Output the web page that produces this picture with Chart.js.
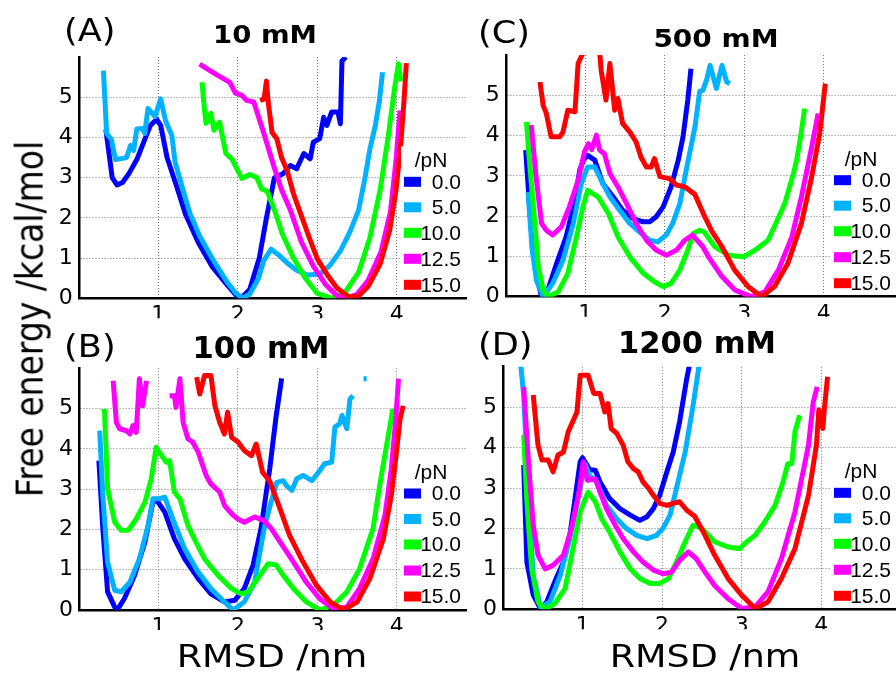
<!DOCTYPE html>
<html>
<head>
<meta charset="utf-8">
<script src="https://cdn.jsdelivr.net/npm/chart.js@4.4.0/dist/chart.umd.min.js"></script>
<style>
body { margin: 0; background: #fff; width: 896px; height: 675px; overflow: hidden; position: relative; font-family: "DejaVu Sans"; }
canvas { position: absolute; }
.t { position: absolute; white-space: nowrap; line-height: 1; color: #000; }
</style>
</head>
<body>
<canvas id="pA" width="468" height="330" style="left:0;top:0"></canvas>
<canvas id="pC" width="428" height="330" style="left:468px;top:0"></canvas>
<canvas id="pB" width="468" height="345" style="left:0;top:330px"></canvas>
<canvas id="pD" width="428" height="345" style="left:468px;top:330px"></canvas>

<div class="t" style="left:64px;top:14px;font-size:32px;transform:scaleX(1.1);transform-origin:left">(A)</div>
<div class="t" style="left:478px;top:16px;font-size:32px;transform:scaleX(1.1);transform-origin:left">(C)</div>
<div class="t" style="left:64px;top:329.5px;font-size:32px;transform:scaleX(1.1);transform-origin:left">(B)</div>
<div class="t" style="left:478px;top:328px;font-size:32px;transform:scaleX(1.1);transform-origin:left">(D)</div>

<div class="t" style="left:265px;top:21.8px;font-size:25px;font-weight:bold;transform:translateX(-50%) scaleX(1.1)">10 mM</div>
<div class="t" style="left:716px;top:25.5px;font-size:25px;font-weight:bold;transform:translateX(-50%) scaleX(1.12)">500 mM</div>
<div class="t" style="left:261px;top:333px;font-size:30px;font-weight:bold;transform:translateX(-50%) scaleX(1.02)">100 mM</div>
<div class="t" style="left:697px;top:328px;font-size:30px;font-weight:bold;transform:translateX(-50%) scaleX(1.02)">1200 mM</div>

<div class="t" style="left:272px;top:639.6px;font-size:32px;transform:translateX(-50%) scaleX(1.14)">RMSD /nm</div>
<div class="t" style="left:705px;top:639.6px;font-size:32px;transform:translateX(-50%) scaleX(1.14)">RMSD /nm</div>
<div class="t" style="left:28.5px;top:318.5px;font-size:33px;transform:translate(-50%,-50%) rotate(-90deg) scaleY(1.15)">Free energy /kcal/mol</div>

<script>
// pulling force of each curve, pN
const forces = ['0.0', '5.0', '10.0', '12.5', '15.0'];
const colors = ['#0000ff', '#00b2ff', '#00ff00', '#ff00ff', '#ff0000'];
const legendTitle = '/pN';
const xTicks = [1, 2, 3, 4];
const yTicks = [0, 1, 2, 3, 4, 5];

// (A) 10 mM  [RMSD nm, kcal/mol]
const a00 = [[0.34,4.2],[0.42,3.0],[0.48,2.82],[0.55,2.88],[0.63,3.1],[0.73,3.45],[0.84,4.0],[0.9,4.3],[0.98,4.45],[1.03,4.3],[1.11,3.5],[1.22,2.85],[1.34,2.1],[1.51,1.36],[1.68,0.78],[1.85,0.37],[1.99,0.05],[2.05,0.02],[2.15,0.22],[2.27,1.0],[2.36,2.0],[2.46,3.0],[2.57,3.1],[2.66,3.3],[2.74,3.22],[2.83,3.6],[2.91,3.47],[2.95,3.88],[3.03,3.97],[3.08,4.5],[3.12,4.3],[3.18,4.63],[3.26,4.63],[3.29,4.34],[3.31,5.9],[3.36,6.0]];
const a05 = [[0.31,5.66],[0.35,4.1],[0.41,3.95],[0.46,3.45],[0.55,3.48],[0.6,3.5],[0.65,3.8],[0.69,3.68],[0.73,4.21],[0.8,4.22],[0.83,4.1],[0.87,4.72],[0.96,4.52],[1.03,4.96],[1.09,4.42],[1.17,4.05],[1.21,3.4],[1.31,2.7],[1.4,2.1],[1.52,1.55],[1.69,0.95],[1.86,0.42],[1.97,0.14],[2.06,0.0],[2.15,0.1],[2.26,0.5],[2.33,0.95],[2.42,1.22],[2.53,1.05],[2.62,0.88],[2.74,0.7],[2.87,0.58],[3.03,0.6],[3.16,0.82],[3.29,1.18],[3.41,1.65],[3.52,2.2],[3.6,3.0],[3.66,3.7],[3.73,4.3],[3.78,4.9],[3.82,5.62]];
const a10 = [[1.55,5.37],[1.58,4.7],[1.6,4.35],[1.66,4.6],[1.7,4.18],[1.77,4.38],[1.85,3.6],[1.93,3.45],[2.05,2.98],[2.15,3.08],[2.24,3.0],[2.3,2.72],[2.37,2.66],[2.46,2.2],[2.56,1.6],[2.7,1.0],[2.85,0.5],[3.0,0.12],[3.18,0.0],[3.35,0.15],[3.52,0.65],[3.66,1.5],[3.79,2.69],[3.89,4.0],[3.97,5.2],[4.02,5.83],[4.05,5.4]];
const a12 = [[1.52,5.82],[1.7,5.6],[1.9,5.37],[1.97,5.1],[2.05,5.05],[2.11,4.92],[2.2,4.88],[2.32,4.15],[2.45,3.3],[2.55,2.7],[2.66,2.2],[2.8,1.4],[2.95,0.8],[3.1,0.35],[3.25,0.06],[3.36,0.0],[3.5,0.1],[3.64,0.45],[3.8,1.15],[3.92,2.15],[3.99,3.43],[4.04,4.67]];
const a15 = [[2.28,4.92],[2.33,4.95],[2.36,5.4],[2.38,4.92],[2.43,4.13],[2.49,3.97],[2.55,3.5],[2.62,3.18],[2.7,2.6],[2.8,2.05],[2.9,1.5],[3.0,0.98],[3.12,0.6],[3.25,0.25],[3.4,0.03],[3.52,0.06],[3.64,0.3],[3.79,0.85],[3.91,1.69],[3.99,2.69],[4.05,3.84],[4.09,4.9],[4.12,5.85]];

// (B) 100 mM
const b00 = [[0.25,3.71],[0.3,2.02],[0.36,0.45],[0.45,0.07],[0.49,0.03],[0.57,0.28],[0.7,0.86],[0.83,1.69],[0.93,2.68],[0.98,2.72],[1.08,2.43],[1.2,1.77],[1.33,1.27],[1.5,0.78],[1.66,0.4],[1.83,0.2],[1.96,0.24],[2.08,0.53],[2.19,1.11],[2.29,2.02],[2.4,3.5],[2.48,4.8],[2.55,5.75]];
const b05 = [[0.26,4.45],[0.3,2.84],[0.36,1.19],[0.45,0.49],[0.53,0.45],[0.64,0.69],[0.76,1.27],[0.87,2.1],[0.93,2.76],[1.0,2.76],[1.08,2.8],[1.18,2.26],[1.33,1.52],[1.5,0.94],[1.66,0.53],[1.83,0.2],[1.94,0.0],[2.08,0.2],[2.21,0.69],[2.33,2.02],[2.42,2.7],[2.49,3.17],[2.57,3.21],[2.61,3.09],[2.68,2.97],[2.74,3.26],[2.82,3.34],[2.93,3.21],[3.03,3.46],[3.09,3.63],[3.18,3.67],[3.22,4.54],[3.28,4.62],[3.31,4.83],[3.37,4.5],[3.41,5.24],[3.45,5.32],[3.5,null],[3.58,5.74],[3.62,5.74]];
const b10 = [[0.32,4.99],[0.36,3.0],[0.45,2.18],[0.53,1.98],[0.62,1.98],[0.72,2.26],[0.83,2.68],[0.91,3.26],[0.97,4.04],[1.04,3.83],[1.1,3.67],[1.14,3.71],[1.2,2.93],[1.27,2.76],[1.37,2.1],[1.45,1.77],[1.58,1.27],[1.75,0.86],[1.92,0.53],[2.04,0.4],[2.13,0.45],[2.25,0.78],[2.38,1.15],[2.48,1.12],[2.57,0.86],[2.7,0.53],[2.86,0.2],[3.03,0.0],[3.2,0.12],[3.37,0.45],[3.53,1.02],[3.7,2.02],[3.79,3.17],[3.87,4.08],[3.95,4.99]];
const b12 = [[0.43,5.69],[0.47,4.66],[0.51,4.5],[0.6,4.45],[0.64,4.37],[0.68,4.58],[0.72,4.41],[0.76,5.74],[0.8,5.07],[0.85,5.69],[0.95,null],[1.14,5.32],[1.2,5.32],[1.22,5.03],[1.27,5.74],[1.31,4.66],[1.37,4.25],[1.43,4.17],[1.5,3.92],[1.6,3.34],[1.66,3.13],[1.77,2.93],[1.83,2.6],[1.92,2.39],[2.0,2.26],[2.08,2.18],[2.21,2.31],[2.33,2.22],[2.42,2.02],[2.53,1.69],[2.7,1.19],[2.86,0.69],[3.03,0.28],[3.2,0.03],[3.37,0.07],[3.53,0.53],[3.7,1.27],[3.85,2.35],[3.93,3.5],[3.99,4.83],[4.02,5.74]];
const b15 = [[1.48,5.78],[1.52,5.36],[1.58,5.82],[1.66,5.82],[1.71,5.07],[1.77,4.66],[1.83,4.37],[1.87,4.91],[1.92,4.29],[2.0,4.17],[2.08,3.96],[2.17,3.83],[2.23,4.12],[2.31,3.42],[2.4,3.2],[2.53,2.51],[2.65,1.85],[2.82,1.19],[2.99,0.61],[3.16,0.2],[3.33,0.0],[3.5,0.2],[3.66,0.78],[3.83,1.77],[3.93,2.84],[3.99,3.83],[4.04,4.74],[4.08,5.07]];

// (C) 500 mM
const c00 = [[0.25,3.64],[0.3,2.2],[0.34,1.16],[0.41,0.33],[0.45,0.0],[0.53,0.17],[0.64,0.83],[0.76,1.49],[0.87,2.4],[0.93,3.14],[0.98,3.4],[1.03,3.51],[1.12,3.39],[1.22,2.81],[1.35,2.48],[1.47,2.15],[1.6,1.94],[1.73,1.86],[1.81,1.86],[1.89,1.98],[1.98,2.23],[2.08,2.73],[2.17,3.39],[2.23,3.97],[2.29,4.88],[2.33,5.66]];
const c05 = [[0.28,2.6],[0.33,1.2],[0.385,0.41],[0.47,0.0],[0.59,0.33],[0.72,0.91],[0.85,1.82],[0.95,2.81],[1.03,3.22],[1.12,3.22],[1.2,2.89],[1.31,2.48],[1.43,2.15],[1.56,1.82],[1.68,1.61],[1.81,1.4],[1.91,1.36],[2.02,1.53],[2.1,1.82],[2.19,2.31],[2.27,3.14],[2.38,4.21],[2.44,5.1],[2.48,5.12],[2.53,5.4],[2.57,5.74],[2.65,5.17],[2.72,5.74],[2.78,5.33],[2.82,5.29]];
const c10 = [[0.26,4.34],[0.3,3.3],[0.34,2.4],[0.41,0.74],[0.47,0.17],[0.53,0.0],[0.66,0.12],[0.78,0.58],[0.89,1.49],[0.97,2.23],[1.03,2.64],[1.16,2.48],[1.29,2.07],[1.41,1.49],[1.56,0.99],[1.73,0.58],[1.87,0.37],[1.98,0.25],[2.08,0.33],[2.19,0.66],[2.29,1.16],[2.36,1.57],[2.44,1.65],[2.5,1.6],[2.63,1.24],[2.8,1.03],[2.99,0.99],[3.14,1.16],[3.3,1.4],[3.38,1.74],[3.51,2.31],[3.62,3.06],[3.66,3.39],[3.71,3.97],[3.76,4.67]];
const c12 = [[0.32,4.26],[0.38,2.98],[0.45,1.82],[0.51,1.65],[0.59,1.53],[0.7,1.74],[0.8,2.23],[0.91,2.89],[0.99,3.6],[1.04,3.8],[1.08,3.65],[1.14,4.01],[1.18,3.64],[1.24,3.55],[1.31,3.06],[1.41,2.73],[1.52,2.31],[1.64,1.82],[1.77,1.4],[1.89,1.16],[2.02,1.03],[2.15,1.16],[2.25,1.4],[2.35,1.53],[2.48,1.24],[2.55,0.99],[2.72,0.5],[2.88,0.17],[3.09,0.0],[3.26,0.12],[3.43,0.66],[3.6,1.49],[3.72,2.48],[3.85,3.72],[3.93,4.55]];
const c15 = [[0.43,5.33],[0.47,4.75],[0.51,4.55],[0.57,3.97],[0.68,3.97],[0.72,4.09],[0.78,4.63],[0.87,4.59],[0.91,5.79],[0.97,6.05],[1.07,6.8],[1.18,6.1],[1.2,5.62],[1.26,4.88],[1.31,5.79],[1.37,4.63],[1.41,4.92],[1.47,4.3],[1.56,4.09],[1.64,3.84],[1.7,3.47],[1.77,3.22],[1.83,3.22],[1.87,3.43],[1.94,2.98],[2.06,2.93],[2.15,2.77],[2.25,2.73],[2.38,2.54],[2.5,2.0],[2.6,1.6],[2.72,1.24],[2.88,0.66],[3.05,0.25],[3.22,0.0],[3.38,0.25],[3.55,0.83],[3.72,1.82],[3.85,2.98],[3.95,4.05],[4.02,5.29]];

// (D) 1200 mM
const d00 = [[0.26,3.57],[0.3,1.17],[0.38,0.35],[0.47,0.02],[0.55,0.18],[0.65,0.68],[0.76,1.17],[0.84,1.83],[0.9,2.66],[0.97,3.65],[1.0,3.75],[1.09,3.45],[1.16,3.44],[1.22,3.15],[1.34,2.74],[1.47,2.49],[1.6,2.33],[1.72,2.2],[1.81,2.29],[1.89,2.49],[1.97,2.82],[2.06,3.4],[2.14,3.89],[2.22,4.64],[2.31,5.71],[2.35,6.1]];
const d05 = [[0.22,6.1],[0.26,5.3],[0.32,2.82],[0.38,0.84],[0.47,0.06],[0.59,0.18],[0.72,0.84],[0.84,1.75],[0.95,2.82],[1.03,3.6],[1.09,3.3],[1.18,3.15],[1.3,2.57],[1.43,2.24],[1.55,2.0],[1.68,1.83],[1.81,1.75],[1.93,1.83],[2.01,2.0],[2.1,2.33],[2.18,2.99],[2.29,3.89],[2.39,5.05],[2.47,6.1]];
const d10 = [[0.26,4.31],[0.3,2.66],[0.36,1.0],[0.44,0.18],[0.53,0.0],[0.65,0.14],[0.78,0.51],[0.88,1.5],[0.97,2.41],[1.07,2.9],[1.16,2.66],[1.24,2.24],[1.34,1.91],[1.47,1.42],[1.6,1.0],[1.72,0.76],[1.85,0.64],[1.97,0.64],[2.08,0.76],[2.18,1.17],[2.29,1.67],[2.39,2.08],[2.5,2.0],[2.66,1.67],[2.83,1.54],[2.98,1.5],[3.04,1.63],[3.17,1.83],[3.29,2.16],[3.42,2.57],[3.52,3.15],[3.58,3.6],[3.63,3.6],[3.67,4.39],[3.73,4.8]];
const d12 = [[0.26,5.5],[0.32,3.65],[0.38,2.08],[0.44,1.34],[0.53,1.0],[0.63,1.09],[0.76,1.34],[0.86,2.0],[0.95,2.82],[1.01,3.65],[1.06,3.19],[1.16,3.23],[1.22,2.9],[1.3,2.49],[1.41,2.08],[1.51,1.75],[1.64,1.42],[1.76,1.17],[1.89,0.97],[2.01,0.88],[2.12,0.92],[2.22,1.21],[2.33,1.42],[2.43,1.25],[2.54,0.92],[2.66,0.59],[2.83,0.26],[3.0,0.02],[3.17,0.06],[3.33,0.43],[3.5,1.25],[3.67,2.41],[3.84,4.06],[3.9,5.13],[3.95,5.5]];
const d15 = [[0.38,5.3],[0.44,4.06],[0.49,3.69],[0.57,3.69],[0.63,3.4],[0.69,3.81],[0.76,3.89],[0.82,4.39],[0.93,4.88],[0.97,5.79],[1.07,5.79],[1.14,5.34],[1.22,5.34],[1.28,4.88],[1.32,5.09],[1.36,4.47],[1.43,4.35],[1.51,4.06],[1.57,3.65],[1.64,3.48],[1.7,3.4],[1.76,3.15],[1.83,2.99],[1.89,2.82],[1.97,2.62],[2.06,2.57],[2.14,2.62],[2.22,2.66],[2.31,2.45],[2.41,2.3],[2.54,1.83],[2.66,1.34],[2.83,0.76],[3.0,0.35],[3.17,0.02],[3.33,0.18],[3.5,0.76],[3.67,1.5],[3.84,2.82],[3.94,4.06],[3.97,4.93],[4.02,4.47],[4.04,4.97],[4.08,5.75]];

// legend drawn inside the plot, lower right, on white
const legendBox = {
  id: 'legendBox',
  afterDatasetsDraw(chart) {
    const ctx = chart.ctx, a = chart.chartArea;
    const x0 = a.right - 62;
    const rows = [-116.5, -91, -65.5, -39.5, -13.5];
    ctx.save();
    ctx.fillStyle = '#fff';
    ctx.fillRect(x0 - 3, a.bottom - 152, a.right - x0 + 3, 149);
    ctx.font = '21px "Liberation Sans"';
    ctx.fillStyle = '#000';
    ctx.textAlign = 'center';
    ctx.textBaseline = 'alphabetic';
    ctx.fillText(legendTitle, a.right - 35, a.bottom - 131);
    ctx.textAlign = 'right';
    ctx.textBaseline = 'middle';
    forces.forEach((f, i) => {
      const y = a.bottom + rows[i];
      ctx.fillStyle = colors[i];
      ctx.fillRect(x0, y - 5, 17, 10);
      ctx.fillStyle = '#000';
      ctx.fillText(f, a.right - 5, y + 1);
    });
    ctx.restore();
  }
};

function panel(id, series, area, xMax) {
  const cv = document.getElementById(id);
  return new Chart(cv, {
    type: 'line',
    data: {
      datasets: series.map((pts, i) => ({
        label: forces[i],
        data: pts.map(p => ({x: p[0], y: p[1]})),
        borderColor: colors[i],
        borderWidth: 5,
        borderJoinStyle: 'round',
        pointRadius: 0,
        tension: 0,
        fill: false,
        spanGaps: false,
        order: 4 - i
      }))
    },
    options: {
      responsive: false,
      animation: false,
      events: [],
      layout: {padding: {left: area[0] - 30, top: area[1], right: cv.width - area[2], bottom: cv.height - area[3] - 20}},
      plugins: {legend: {display: false}, tooltip: {enabled: false}},
      scales: {
        x: {
          type: 'linear', min: 0, max: xMax,
          afterFit: s => { s.height = 20; },
          afterBuildTicks: s => { s.ticks = xTicks.map(v => ({value: v})); },
          ticks: {padding: 4, maxRotation: 0, autoSkip: false, color: '#000', font: {family: 'DejaVu Sans', size: 22}},
          grid: {color: '#777', lineWidth: 1, drawTicks: false},
          border: {color: '#000', width: 2.5, dash: [1, 2]}
        },
        y: {
          min: 0, max: 6,
          afterFit: s => { s.width = 30; },
          afterBuildTicks: s => { s.ticks = yTicks.map(v => ({value: v})); },
          ticks: {padding: 6, autoSkip: false, color: '#000', font: {family: 'DejaVu Sans', size: 22}},
          grid: {color: '#777', lineWidth: 1, drawTicks: false},
          border: {color: '#000', width: 2.5, dash: [1, 2]}
        }
      }
    },
    plugins: [legendBox]
  });
}

// chart areas in canvas pixels: left, top, right, bottom
panel('pA', [a00, a05, a10, a12, a15], [78.8, 57, 466, 298.3], 4.87);
panel('pC', [c00, c05, c10, c12, c15], [37.8, 55, 428, 296.7], 4.91);
panel('pB', [b00, b05, b10, b12, b15], [79, 38.3, 466, 280], 4.87);
panel('pD', [d00, d05, d10, d12, d15], [35, 36.7, 428, 279.3], 4.94);
</script>
</body>
</html>
